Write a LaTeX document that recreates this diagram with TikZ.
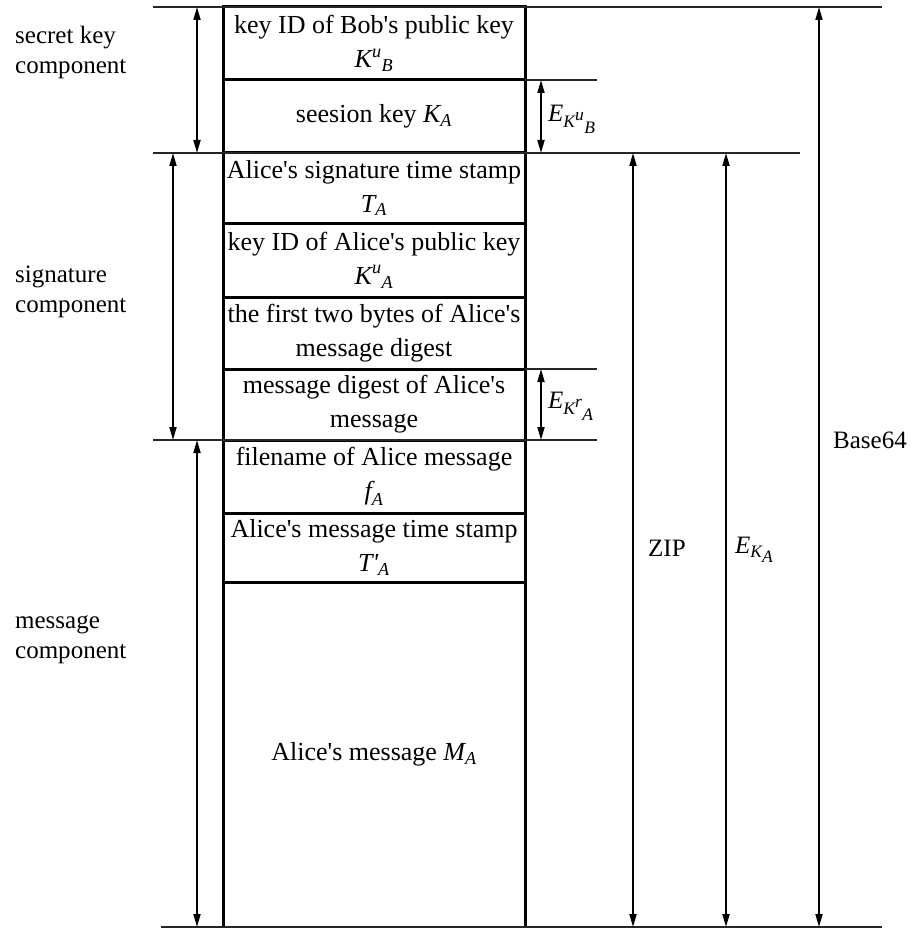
\documentclass[tikz,border=0pt]{standalone}
\usepackage{amsmath}
\usepackage{fontspec}
\setmainfont{Liberation Serif}
\usetikzlibrary{arrows.meta}
\newcommand{\vi}[1]{\textit{#1}}
\newcommand{\ap}{\textquotesingle}
\newcommand{\boxfont}{\fontsize{26}{34}\selectfont}
% subscript key with its own script-size indices
\newcommand{\keyidx}[2]{\vi{K}^{\scriptstyle\vi{#1}}{}_{\scriptstyle\vi{#2}}}

\begin{document}
\begin{tikzpicture}[x=1pt,y=-1pt,
  field/.style={draw, line width=3pt, minimum width=302pt, inner sep=0pt,
                align=center, font=\boxfont},
  side/.style={align=left, anchor=west, inner sep=0pt, font=\fontsize{25}{30}\selectfont},
  tag/.style={inner sep=0pt, font=\fontsize{25}{30}\selectfont},
  rule/.style={line width=1.2pt, black!85},
  span/.style={line width=1.8pt, {Triangle[length=13pt,width=7pt]}-{Triangle[length=13pt,width=7pt]}}]

\useasboundingbox (0,0) rectangle (912,928);

% stacked fields of the message
\node[field, minimum height=73pt]  (bobid)   at (374,43.5)  {key ID of Bob\ap s public key\\ $\vi{K}^{\vi{u}}{}_{\vi{B}}$};
\node[field, minimum height=73pt]  (sess)    at (374,116.5) {seesion key $\vi{K}_{\vi{A}}$};
\node[field, minimum height=70pt]  (sigts)   at (374,188)   {Alice\ap s signature time stamp\\ $\vi{T}_{\vi{A}}$};
\node[field, minimum height=74pt]  (aliceid) at (374,260)   {key ID of Alice\ap s public key\\ $\vi{K}^{\vi{u}}{}_{\vi{A}}$};
\node[field, minimum height=72pt]  (twob)    at (374,333)   {the first two bytes of Alice\ap s\\ message digest};
\node[field, minimum height=71pt]  (digest)  at (374,404.5) {message digest of Alice\ap s\\ message};
\node[field, minimum height=73pt]  (fname)   at (374,476.5) {filename of Alice message\\ $\vi{f}_{\vi{A}}$};
\node[field, minimum height=69pt]  (msgts)   at (374,547.5) {Alice\ap s message time stamp\\ $\vi{T\ap}_{\vi{A}}$};
\node[field, minimum height=345pt] (msg)     at (374,754.5) {Alice\ap s message $\vi{M}_{\vi{A}}$};

% guide lines
\coordinate (tl) at (153,7);    \coordinate (tr) at (882,7);
\coordinate (al) at (525,80);   \coordinate (ar) at (597,80);
\coordinate (bl) at (153,153);  \coordinate (br) at (800,153);
\coordinate (cl) at (525,369);  \coordinate (cr) at (597,369);
\coordinate (dl) at (153,440);  \coordinate (dr) at (597,440);
\coordinate (el) at (161,927);  \coordinate (er) at (882,927);
\draw[rule] (tl) -- (tr);
\draw[rule] (al) -- (ar);
\draw[rule] (bl) -- (br);
\draw[rule] (cl) -- (cr);
\draw[rule] (dl) -- (dr);
\draw[rule] (el) -- (er);

% extent arrows
\coordinate (sk1) at (197,7);   \coordinate (sk2) at (197,153);
\coordinate (sg1) at (173,153); \coordinate (sg2) at (173,440);
\coordinate (mc1) at (197,440); \coordinate (mc2) at (197,927);
\coordinate (eb1) at (541,80);  \coordinate (eb2) at (541,153);
\coordinate (ea1) at (541,369); \coordinate (ea2) at (541,440);
\coordinate (zp1) at (633,153); \coordinate (zp2) at (633,927);
\coordinate (ek1) at (726,153); \coordinate (ek2) at (726,927);
\coordinate (b1)  at (819,7);   \coordinate (b2)  at (819,927);
\draw[span] (sk1) -- (sk2);
\draw[span] (sg1) -- (sg2);
\draw[span] (mc1) -- (mc2);
\draw[span] (eb1) -- (eb2);
\draw[span] (ea1) -- (ea2);
\draw[span] (zp1) -- (zp2);
\draw[span] (ek1) -- (ek2);
\draw[span] (b1) -- (b2);

% component names
\node[side] (lsec) at (15,52)  {secret key\\component};
\node[side] (lsig) at (15,292) {signature\\component};
\node[side] (lmsg) at (15,640) {message\\component};

% encryption and encoding labels
\node[tag, anchor=west] (teb)  at (548,119) {$\vi{E}_{\keyidx{u}{B}}$};
\node[tag, anchor=west] (tea)  at (548,406) {$\vi{E}_{\keyidx{r}{A}}$};
\node[tag, anchor=west] (tzip) at (648,548) {ZIP};
\node[tag, anchor=west] (tek)  at (735,550) {$\vi{E}_{\vi{K}_{\scriptstyle\vi{A}}}$};
\node[tag, anchor=west] (tb64) at (833,440) {Base64};
\end{tikzpicture}
\end{document}
